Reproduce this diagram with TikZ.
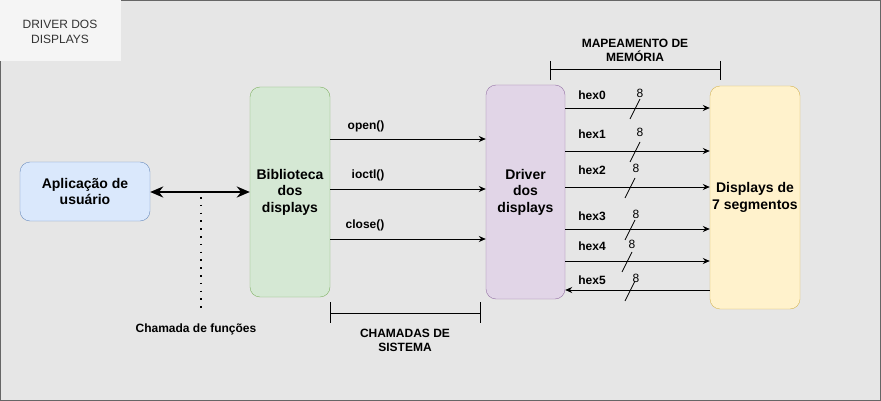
\documentclass[tikz,border=0pt]{standalone}
\usepackage{fontspec}
\setmainfont{Liberation Sans}
\usetikzlibrary{arrows.meta}

\definecolor{bgGray}{HTML}{E6E6E6}
\definecolor{titleFill}{HTML}{F5F5F5}
\definecolor{darkText}{HTML}{333333}
\definecolor{appFill}{HTML}{DAE8FC}\definecolor{appLine}{HTML}{6C8EBF}
\definecolor{libFill}{HTML}{D5E8D4}\definecolor{libLine}{HTML}{82B366}
\definecolor{drvFill}{HTML}{E1D5E7}\definecolor{drvLine}{HTML}{9673A6}
\definecolor{dispFill}{HTML}{FFF2CC}\definecolor{dispLine}{HTML}{D6B656}

\tikzset{
  block/.style={draw, rounded corners=10pt, align=center, font=\fontsize{14}{16.5}\selectfont\bfseries, inner sep=0pt},
  lbl/.style={font=\fontsize{12}{14}\selectfont\bfseries, align=center, inner sep=0pt},
  conn/.style={line width=0.9pt},
  span/.style={line width=1pt}
}

\begin{document}
\begin{tikzpicture}[x=1pt,y=-1pt, >={Stealth[length=7pt,width=6pt]}]
\useasboundingbox (0,0) rectangle (881,401);
\fill[bgGray] (0,0) rectangle (881,401);
\draw[gray!80!black] (0.5,0.5) rectangle (880.5,400.5);
\fill[titleFill] (0,0) rectangle (121,61);
\node[font=\fontsize{12}{15}\selectfont, text=darkText, align=center] (title) at (60,32) {DRIVER DOS\\DISPLAYS};

% blocos
\node[block, fill=appFill, draw=appLine, minimum width=130pt, minimum height=59pt] (app) at (85,191.5) {Aplicação de\\usuário};
\node[block, fill=libFill, draw=libLine, minimum width=80pt, minimum height=210pt] (lib) at (290,192) {Biblioteca\\dos\\displays};
\node[block, fill=drvFill, draw=drvLine, minimum width=79pt, minimum height=214pt] (drv) at (525.5,192) {Driver\\dos\\displays};
\node[block, fill=dispFill, draw=dispLine, minimum width=90pt, minimum height=223pt] (disp) at (755,197.5) {Displays de\\7 segmentos};

% chamada de funcoes
\draw[{Stealth[length=13pt,width=11pt]}-{Stealth[length=13pt,width=11pt]}, line width=2.5pt] (app.east |- 0,192) -- (lib.west |- 0,192);
\coordinate (dotTop) at (201,197);
\coordinate (dotBot) at (201,313);
\draw[line width=1.6pt, dash pattern=on 1.6pt off 6.2pt] (dotTop) -- (dotBot);
\node[lbl] (funcs) at (196,329) {Chamada de funções};

% chamadas de sistema
\foreach \y in {139,189,239}
  \draw[conn, ->] (lib.east |- 0,\y) -- (drv.west |- 0,\y);
\node[lbl] (open) at (366,126) {open()};
\node[lbl] (ioctl) at (368,175) {ioctl()};
\node[lbl] (close) at (365,225) {close()};

\draw[span] (330,302) -- (330,323) (330,313) -- (480,313) (480,302) -- (480,323);
\node[lbl] (sys) at (405,340) {CHAMADAS DE\\SISTEMA};

% mapeamento de memoria
\draw[span] (550,61) -- (550,80) (550,70) -- (720,70) (720,61) -- (720,80);
\node[lbl] (mem) at (635,50) {MAPEAMENTO DE\\MEMÓRIA};

\foreach \n/\y/\hy/\s/\e/\d in {0/108/95/635/640/->, 1/151/134/635/640/->, 2/187/170/630/636/->, 3/229/216/630/636/->, 4/261/246/627/632/->, 5/290/280/630/636/<-} {
  \draw[conn, \d] (drv.east |- 0,\y) -- (disp.west |- 0,\y);
  \node[lbl] (hex\n) at (592,\hy) {hex\n};
  \draw[line width=0.8pt] (\s-5,\y+11) -- (\s+5,\y-9);
  \node[font=\fontsize{12}{14}\selectfont, inner sep=0pt] (bits\n) at (\e,\hy-2) {8};
}
\end{tikzpicture}
\end{document}
